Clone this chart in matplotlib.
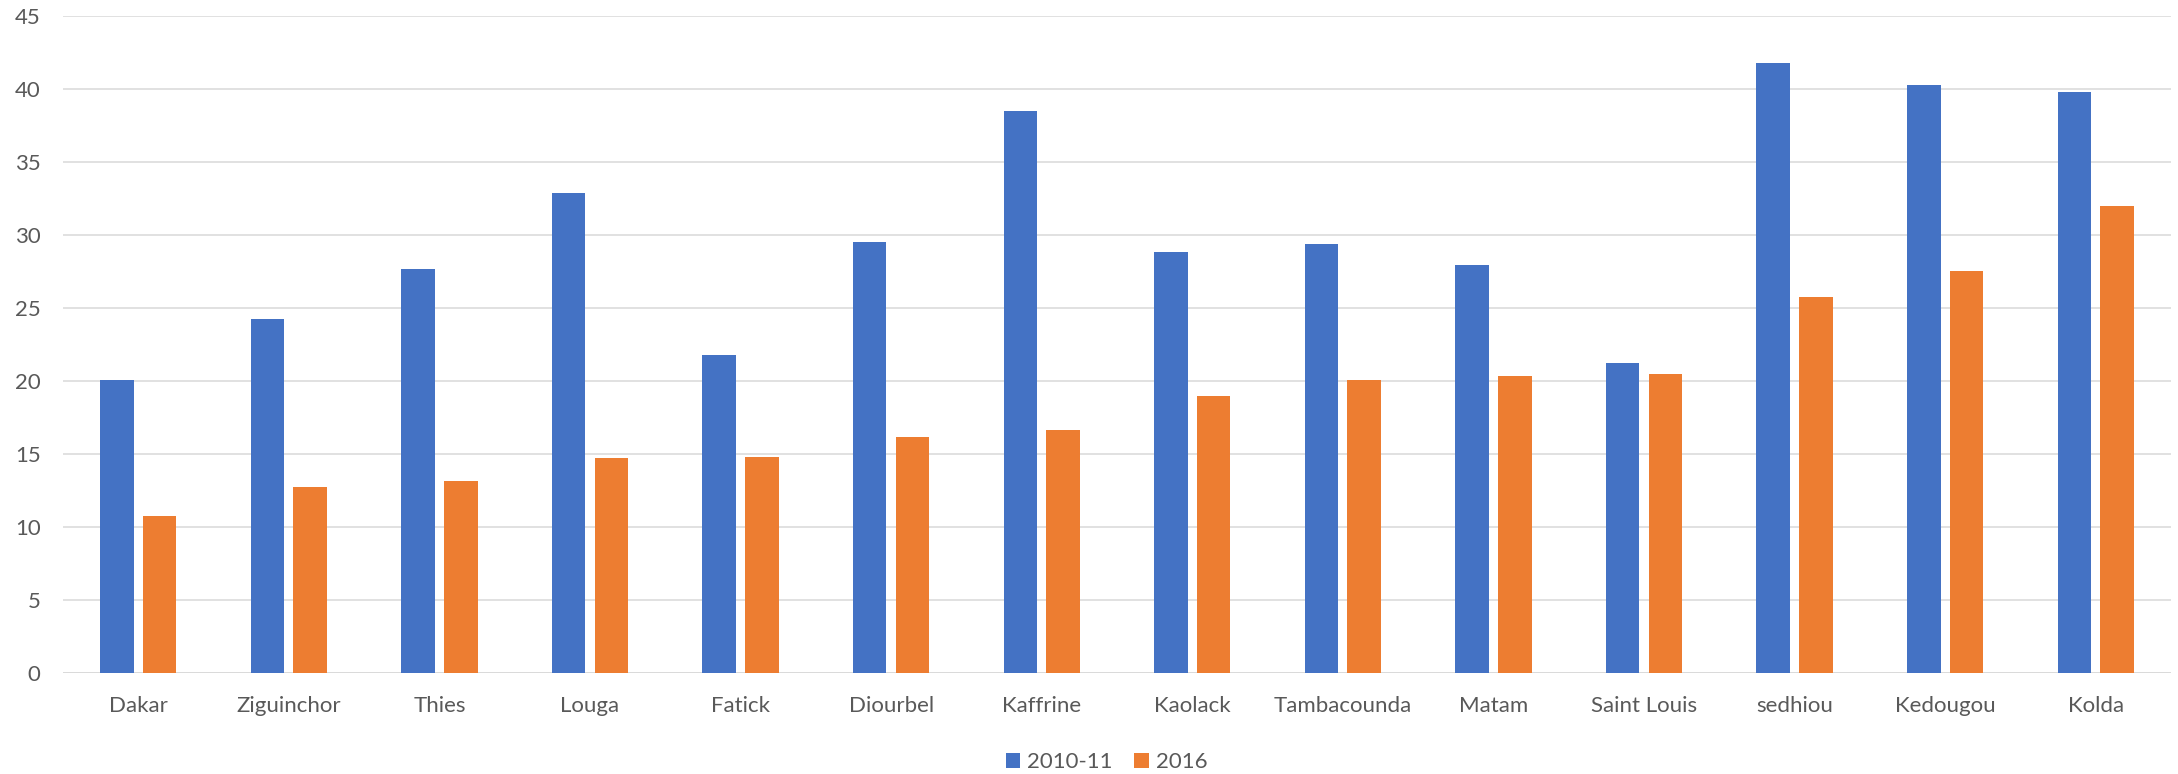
import matplotlib
matplotlib.use("Agg")
import matplotlib.pyplot as plt
from matplotlib.patches import Patch
import numpy as np

regions = ["Dakar", "Ziguinchor", "Thies", "Louga", "Fatick", "Diourbel", "Kaffrine",
           "Kaolack", "Tambacounda", "Matam", "Saint Louis", "sedhiou", "Kedougou", "Kolda"]
values_2010_11 = [20.07, 24.25, 27.66, 32.87, 21.76, 29.51, 38.5,
                  28.83, 29.38, 27.98, 21.26, 41.78, 40.3, 39.8]
values_2016 = [10.74, 12.73, 13.12, 14.74, 14.79, 16.14, 16.64,
               18.95, 20.07, 20.34, 20.48, 25.78, 27.54, 32.0]
series_labels = ["2010-11", "2016"]
y_ticks = [0, 5, 10, 15, 20, 25, 30, 35, 40, 45]

blue = "#4472C4"
orange = "#ED7D31"
text_color = "#595959"
grid_color = "#D9D9D9"

plt.rcParams["font.family"] = ["Lato", "DejaVu Sans"]

fig = plt.figure(figsize=(21.78, 7.74), dpi=100)
ax = fig.add_axes([0.0289, 0.131, 0.9679, 0.8477])

x = np.arange(len(regions))
width = 0.2225
offset = 0.142
ax.bar(x - offset, values_2010_11, width, color=blue, zorder=3)
ax.bar(x + offset, values_2016, width, color=orange, zorder=3)

ax.set_xlim(-0.5, len(regions) - 0.5)
ax.set_ylim(0, 45)
ax.set_yticks(y_ticks)
ax.set_xticks(x)
ax.set_xticklabels(regions)
ax.yaxis.grid(True, color=grid_color, linewidth=1.1, zorder=0)
ax.set_axisbelow(True)
for side in ["top", "right", "left", "bottom"]:
    ax.spines[side].set_visible(False)
ax.axhline(0, color=grid_color, linewidth=1.1, zorder=1)
ax.tick_params(axis="both", length=0, labelsize=16, colors=text_color)
ax.tick_params(axis="y", pad=16)
ax.tick_params(axis="x", pad=17)

handles = [Patch(facecolor=blue, label=series_labels[0]),
           Patch(facecolor=orange, label=series_labels[1])]
fig.legend(handles=handles, loc="center", bbox_to_anchor=(0.508, 0.0155), ncol=2,
           frameon=False, fontsize=16, labelcolor=text_color,
           handlelength=0.65, handleheight=0.65, handletextpad=0.3, columnspacing=1.0)

fig.savefig("out.png", dpi=100, facecolor="white")
